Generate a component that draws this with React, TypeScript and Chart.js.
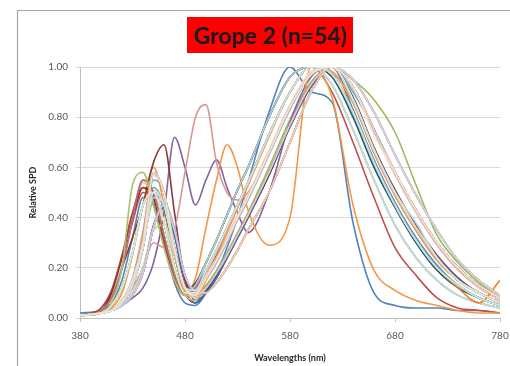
import React, { useEffect, useRef } from "react";
import { Chart, registerables } from "chart.js";

Chart.register(...registerables);

// Wavelength grid (nm) shared by all series
const wavelengths = [380, 400, 410, 420, 430, 440, 450, 460, 470, 480, 490, 500, 510, 520, 530, 540, 560, 580, 600, 620, 640, 660, 680, 700, 720, 740, 760, 780];

const xTicks = [380, 480, 580, 680, 780];
const yTicks = [0, 0.2, 0.4, 0.6, 0.8, 1.0];

const titleText = "Grope 2 (n=54)";
const xTitle = "Wavelengths (nm)";
const yTitle = "Relative SPD";

// Relative SPD values for the 54 lamps
const s01 = [0.02,0.03,0.06,0.15,0.32,0.48,0.46,0.3,0.14,0.06,0.05,0.1,0.18,0.28,0.4,0.54,0.82,1.0,0.9,0.86,0.38,0.1,0.05,0.04,0.04,0.03,0.03,0.02];
const s02 = [0.01,0.03,0.08,0.2,0.38,0.5,0.46,0.3,0.15,0.09,0.09,0.17,0.25,0.34,0.44,0.53,0.73,0.9,1.0,0.9,0.7,0.48,0.28,0.17,0.08,0.04,0.03,0.02];
const s03 = [0.01,0.02,0.03,0.07,0.15,0.3,0.46,0.42,0.25,0.12,0.1,0.13,0.19,0.26,0.34,0.42,0.6,0.79,0.94,1.0,0.95,0.87,0.74,0.53,0.33,0.22,0.14,0.08];
const s04 = [0.01,0.02,0.03,0.05,0.08,0.12,0.22,0.42,0.72,0.6,0.45,0.55,0.63,0.52,0.42,0.34,0.5,0.78,0.96,1.0,0.87,0.67,0.5,0.36,0.24,0.15,0.1,0.06];
const s05 = [0.01,0.02,0.03,0.06,0.13,0.28,0.52,0.45,0.27,0.12,0.1,0.16,0.23,0.31,0.4,0.48,0.66,0.84,0.97,1.0,0.87,0.67,0.51,0.36,0.24,0.15,0.1,0.06];
const s06 = [0.01,0.02,0.04,0.1,0.25,0.45,0.6,0.45,0.2,0.1,0.16,0.36,0.55,0.69,0.6,0.43,0.29,0.4,1.0,0.88,0.45,0.19,0.11,0.07,0.05,0.03,0.02,0.02];
const s07 = [0.01,0.02,0.03,0.05,0.09,0.18,0.36,0.45,0.35,0.15,0.07,0.11,0.17,0.24,0.32,0.4,0.57,0.76,0.92,1.0,0.92,0.75,0.58,0.43,0.3,0.2,0.13,0.08];
const s08 = [0.01,0.03,0.08,0.2,0.32,0.45,0.62,0.69,0.42,0.15,0.1,0.16,0.23,0.31,0.4,0.48,0.66,0.84,0.97,1.0,0.92,0.75,0.58,0.43,0.3,0.2,0.13,0.08];
const s09 = [0.01,0.02,0.05,0.12,0.26,0.45,0.5,0.38,0.2,0.1,0.13,0.22,0.31,0.41,0.51,0.6,0.8,0.96,1.0,0.93,0.75,0.55,0.37,0.24,0.15,0.09,0.06,0.04];
const s10 = [0.01,0.02,0.03,0.05,0.1,0.19,0.37,0.44,0.33,0.16,0.09,0.1,0.14,0.2,0.27,0.35,0.5,0.7,0.9,1.0,0.88,0.68,0.51,0.37,0.25,0.16,0.1,0.06];
const s11 = [0.01,0.03,0.08,0.2,0.4,0.55,0.5,0.33,0.17,0.1,0.12,0.19,0.27,0.36,0.45,0.54,0.73,0.9,1.0,0.97,0.82,0.62,0.45,0.31,0.2,0.13,0.08,0.05];
const s12 = [0.01,0.02,0.03,0.06,0.13,0.28,0.49,0.45,0.28,0.13,0.1,0.12,0.18,0.25,0.33,0.41,0.58,0.77,0.93,1.0,0.95,0.82,0.65,0.49,0.35,0.23,0.15,0.09];
const s13 = [0.01,0.02,0.03,0.07,0.15,0.33,0.57,0.5,0.28,0.12,0.09,0.15,0.22,0.3,0.39,0.47,0.65,0.83,0.97,1.0,0.86,0.66,0.49,0.35,0.23,0.15,0.1,0.06];
const s14 = [0.01,0.02,0.03,0.06,0.12,0.2,0.3,0.28,0.35,0.58,0.8,0.85,0.62,0.5,0.47,0.5,0.66,0.84,0.97,1.0,0.87,0.67,0.5,0.36,0.24,0.15,0.1,0.06];
const s15 = [0.01,0.02,0.03,0.05,0.1,0.2,0.35,0.37,0.25,0.12,0.08,0.12,0.18,0.25,0.33,0.41,0.58,0.77,0.93,1.0,0.92,0.75,0.58,0.43,0.3,0.2,0.13,0.08];
const s16 = [0.01,0.02,0.05,0.12,0.26,0.45,0.5,0.38,0.2,0.1,0.1,0.16,0.23,0.31,0.4,0.48,0.66,0.84,0.97,1.0,0.83,0.63,0.46,0.32,0.21,0.13,0.08,0.05];
const s17 = [0.01,0.02,0.03,0.05,0.09,0.18,0.36,0.46,0.36,0.17,0.11,0.16,0.23,0.31,0.4,0.48,0.66,0.84,0.97,1.0,0.95,0.82,0.65,0.49,0.35,0.23,0.15,0.09];
const s18 = [0.01,0.03,0.08,0.21,0.41,0.54,0.48,0.32,0.17,0.11,0.14,0.22,0.31,0.41,0.51,0.6,0.8,0.96,1.0,0.93,0.75,0.55,0.37,0.24,0.15,0.09,0.06,0.04];
const s19 = [0.01,0.02,0.03,0.06,0.13,0.28,0.49,0.44,0.25,0.1,0.06,0.1,0.16,0.24,0.32,0.4,0.57,0.77,0.93,1.0,0.87,0.67,0.5,0.36,0.24,0.15,0.1,0.06];
const s20 = [0.01,0.03,0.1,0.24,0.4,0.52,0.48,0.32,0.17,0.1,0.1,0.16,0.23,0.31,0.4,0.48,0.66,0.84,0.97,1.0,0.92,0.75,0.58,0.43,0.3,0.2,0.13,0.08];
const s21 = [0.01,0.02,0.03,0.07,0.15,0.33,0.57,0.5,0.28,0.12,0.11,0.19,0.27,0.36,0.45,0.54,0.73,0.9,1.0,0.97,0.82,0.62,0.45,0.31,0.2,0.13,0.08,0.05];
const s22 = [0.01,0.02,0.03,0.06,0.13,0.28,0.5,0.45,0.27,0.12,0.09,0.1,0.14,0.2,0.27,0.35,0.5,0.7,0.9,1.0,0.92,0.75,0.58,0.43,0.3,0.2,0.13,0.08];
const s23 = [0.01,0.02,0.05,0.12,0.26,0.45,0.5,0.38,0.2,0.11,0.14,0.22,0.31,0.41,0.51,0.6,0.8,0.96,1.0,0.96,0.8,0.6,0.44,0.3,0.19,0.12,0.08,0.05];
const s24 = [0.01,0.02,0.03,0.05,0.09,0.18,0.36,0.45,0.35,0.17,0.1,0.12,0.18,0.25,0.33,0.41,0.58,0.77,0.93,1.0,0.95,0.82,0.65,0.49,0.35,0.23,0.15,0.09];
const s25 = [0.01,0.02,0.03,0.07,0.16,0.35,0.58,0.5,0.27,0.12,0.1,0.16,0.23,0.31,0.4,0.48,0.66,0.84,0.97,1.0,0.87,0.67,0.5,0.36,0.24,0.15,0.1,0.06];
const s26 = [0.01,0.02,0.03,0.06,0.13,0.28,0.5,0.45,0.27,0.12,0.1,0.16,0.23,0.31,0.4,0.48,0.66,0.84,0.98,1.0,0.91,0.74,0.57,0.42,0.29,0.19,0.12,0.07];
const s27 = [0.01,0.02,0.05,0.12,0.26,0.45,0.5,0.38,0.2,0.1,0.11,0.19,0.27,0.36,0.45,0.54,0.73,0.9,1.0,0.98,0.86,0.66,0.49,0.35,0.23,0.15,0.1,0.06];
const s28 = [0.01,0.02,0.03,0.05,0.1,0.2,0.35,0.37,0.25,0.12,0.08,0.1,0.14,0.2,0.27,0.35,0.5,0.7,0.9,1.0,0.95,0.82,0.65,0.49,0.35,0.23,0.15,0.09];
const s29 = [0.01,0.03,0.08,0.2,0.4,0.55,0.5,0.33,0.17,0.1,0.12,0.19,0.27,0.36,0.45,0.54,0.73,0.9,1.0,0.93,0.75,0.55,0.37,0.24,0.15,0.09,0.06,0.04];
const s30 = [0.01,0.02,0.03,0.06,0.14,0.3,0.51,0.45,0.26,0.12,0.1,0.17,0.24,0.32,0.41,0.49,0.67,0.85,0.98,1.0,0.86,0.66,0.49,0.35,0.23,0.15,0.1,0.06];
const s31 = [0.01,0.02,0.03,0.05,0.09,0.18,0.36,0.45,0.33,0.12,0.06,0.1,0.16,0.24,0.32,0.4,0.58,0.77,0.93,1.0,0.87,0.67,0.5,0.36,0.24,0.15,0.1,0.06];
const s32 = [0.01,0.04,0.11,0.25,0.42,0.52,0.45,0.3,0.16,0.1,0.13,0.22,0.31,0.41,0.51,0.6,0.8,0.96,1.0,0.97,0.82,0.62,0.45,0.31,0.2,0.13,0.08,0.05];
const s33 = [0.01,0.02,0.03,0.07,0.15,0.33,0.57,0.5,0.28,0.12,0.09,0.16,0.23,0.31,0.4,0.48,0.66,0.84,0.97,1.0,0.92,0.75,0.58,0.43,0.3,0.2,0.13,0.08];
const s34 = [0.01,0.02,0.03,0.06,0.13,0.28,0.5,0.45,0.27,0.12,0.09,0.12,0.18,0.25,0.33,0.41,0.58,0.77,0.93,1.0,0.92,0.75,0.58,0.43,0.3,0.2,0.13,0.08];
const s35 = [0.01,0.02,0.03,0.07,0.15,0.33,0.57,0.5,0.28,0.12,0.11,0.19,0.27,0.36,0.45,0.54,0.73,0.9,1.0,0.98,0.86,0.66,0.49,0.35,0.23,0.15,0.1,0.06];
const s36 = [0.01,0.02,0.03,0.06,0.13,0.28,0.5,0.45,0.27,0.12,0.1,0.16,0.23,0.31,0.4,0.48,0.66,0.84,0.97,1.0,0.82,0.62,0.45,0.31,0.2,0.12,0.06,0.15];
const s37 = [0.01,0.02,0.03,0.05,0.09,0.18,0.36,0.45,0.35,0.17,0.11,0.16,0.23,0.31,0.4,0.48,0.66,0.84,0.97,1.0,0.92,0.75,0.58,0.43,0.3,0.2,0.13,0.08];
const s38 = [0.01,0.02,0.05,0.12,0.26,0.45,0.5,0.38,0.2,0.1,0.11,0.19,0.27,0.36,0.45,0.54,0.73,0.9,1.0,0.97,0.82,0.62,0.45,0.31,0.2,0.13,0.08,0.05];
const s39 = [0.01,0.02,0.03,0.05,0.1,0.2,0.35,0.37,0.25,0.12,0.08,0.12,0.18,0.25,0.33,0.41,0.58,0.77,0.93,1.0,0.95,0.82,0.65,0.49,0.35,0.23,0.15,0.09];
const s40 = [0.01,0.02,0.03,0.07,0.15,0.33,0.57,0.5,0.28,0.12,0.09,0.16,0.23,0.31,0.4,0.48,0.66,0.84,0.97,1.0,0.87,0.67,0.5,0.36,0.24,0.15,0.1,0.06];
const s41 = [0.01,0.02,0.05,0.12,0.26,0.45,0.5,0.38,0.2,0.1,0.13,0.22,0.31,0.41,0.51,0.6,0.8,0.96,1.0,0.97,0.82,0.62,0.45,0.31,0.2,0.13,0.08,0.05];
const s42 = [0.01,0.02,0.03,0.05,0.09,0.18,0.36,0.45,0.35,0.17,0.1,0.1,0.14,0.2,0.27,0.35,0.5,0.7,0.9,1.0,0.92,0.75,0.58,0.43,0.3,0.2,0.13,0.08];
const s43 = [0.01,0.02,0.03,0.06,0.13,0.28,0.5,0.45,0.27,0.12,0.1,0.16,0.23,0.31,0.4,0.48,0.66,0.84,0.97,1.0,0.83,0.63,0.46,0.32,0.21,0.13,0.08,0.05];
const s44 = [0.01,0.03,0.08,0.2,0.4,0.55,0.5,0.33,0.17,0.1,0.12,0.19,0.27,0.36,0.45,0.54,0.73,0.9,1.0,0.98,0.86,0.66,0.49,0.35,0.23,0.15,0.1,0.06];
const s45 = [0.01,0.02,0.06,0.2,0.53,0.58,0.45,0.28,0.15,0.09,0.1,0.19,0.27,0.36,0.45,0.54,0.73,0.9,1.0,0.97,0.82,0.62,0.45,0.31,0.2,0.13,0.08,0.05];
const s46 = [0.01,0.02,0.03,0.05,0.09,0.18,0.36,0.45,0.35,0.17,0.1,0.12,0.18,0.25,0.33,0.41,0.58,0.77,0.93,1.0,0.87,0.67,0.5,0.36,0.24,0.15,0.1,0.06];
const s47 = [0.01,0.02,0.03,0.07,0.15,0.33,0.55,0.5,0.28,0.12,0.09,0.16,0.23,0.31,0.4,0.48,0.66,0.84,0.97,1.0,0.9,0.75,0.58,0.43,0.3,0.2,0.13,0.08];
const s48 = [0.01,0.02,0.03,0.07,0.15,0.33,0.57,0.5,0.26,0.1,0.07,0.15,0.24,0.34,0.44,0.53,0.72,0.9,1.0,0.98,0.86,0.66,0.49,0.35,0.23,0.15,0.1,0.06];
const s49 = [0.01,0.02,0.03,0.06,0.13,0.28,0.48,0.45,0.27,0.12,0.1,0.16,0.23,0.31,0.4,0.48,0.66,0.84,0.97,1.0,0.87,0.67,0.5,0.38,0.24,0.15,0.1,0.06];
const s50 = [0.01,0.02,0.03,0.06,0.13,0.28,0.5,0.45,0.27,0.12,0.09,0.12,0.18,0.25,0.33,0.41,0.58,0.77,0.93,1.0,0.92,0.75,0.58,0.43,0.3,0.2,0.13,0.08];
const s51 = [0.01,0.02,0.05,0.12,0.26,0.45,0.5,0.38,0.2,0.1,0.1,0.16,0.23,0.31,0.4,0.48,0.66,0.84,0.97,1.0,0.87,0.67,0.5,0.36,0.24,0.15,0.1,0.06];
const s52 = [0.01,0.02,0.03,0.05,0.09,0.18,0.36,0.45,0.35,0.17,0.11,0.16,0.23,0.31,0.4,0.48,0.66,0.84,0.97,1.0,0.95,0.82,0.65,0.49,0.35,0.23,0.15,0.09];
const s53 = [0.01,0.02,0.03,0.06,0.13,0.28,0.5,0.45,0.27,0.12,0.11,0.19,0.27,0.36,0.45,0.54,0.73,0.9,1.0,0.97,0.82,0.62,0.45,0.31,0.2,0.13,0.08,0.05];
const s54 = [0.01,0.02,0.03,0.07,0.15,0.3,0.57,0.5,0.28,0.12,0.09,0.16,0.23,0.31,0.4,0.48,0.66,0.84,0.97,1.0,0.92,0.73,0.58,0.43,0.3,0.2,0.13,0.08];

const allSeries = [s01,s02,s03,s04,s05,s06,s07,s08,s09,s10,s11,s12,s13,s14,s15,s16,s17,s18,s19,s20,s21,s22,s23,s24,s25,s26,s27,s28,s29,s30,s31,s32,s33,s34,s35,s36,s37,s38,s39,s40,s41,s42,s43,s44,s45,s46,s47,s48,s49,s50,s51,s52,s53,s54];

const seriesColors = [
  "#4F81BD","#C0504D","#9BBB59","#8064A2","#4BACC6","#F79646",
  "#385D8A","#8C3836","#71893F","#5C4776","#357D91","#B66D31",
  "#95B3D7","#D99694","#C3D69B","#B3A2C7","#93CDDD","#FAC090",
  "#254061","#632523","#4F6228","#3F3151","#215968","#984807",
  "#B9CDE5","#E6B9B8","#D7E4BD","#CCC1DA","#B7DEE8","#FCD5B5",
  "#3F6FA8","#A5403D","#86A543","#6B5190","#31A0BD","#F57E21",
  "#A7C0DE","#DCA3A1","#CDDDAC","#BFB1D0","#A5D5E2","#FBCBA3",
  "#5C8AC2","#C66461","#A6C36F","#8E76AD","#5FB5CC","#F8A15F",
  "#C5D5EA","#EBC7C6","#DEE9C9","#D4CBE1","#C7E6EE","#FDDFC7",
];

const framePlugin = {
  id: "frame",
  beforeDraw(chart: any) {
    const ctx = chart.ctx;
    ctx.save();
    ctx.fillStyle = "#ffffff";
    ctx.fillRect(0, 0, chart.width, chart.height);
    ctx.strokeStyle = "#A6A6A6";
    ctx.lineWidth = 1.2;
    ctx.beginPath();
    ctx.moveTo(17.5, chart.height);
    ctx.lineTo(17.5, 10.5);
    ctx.lineTo(chart.width, 10.5);
    ctx.stroke();
    ctx.restore();
  },
};

export default function App() {
  const ref = useRef<HTMLCanvasElement>(null);

  useEffect(() => {
    if (!ref.current) return;
    const datasets = allSeries.map((vals, i) => ({
      label: "Lamp " + (i + 1),
      data: wavelengths.map((x, j) => ({ x, y: vals[j] })),
      borderColor: seriesColors[i],
      backgroundColor: seriesColors[i],
      borderWidth: 1.6,
      pointRadius: 0,
      fill: false,
      cubicInterpolationMode: "monotone" as const,
      order: allSeries.length - 1 - i,
    }));
    const chart = new Chart(ref.current, {
      type: "line",
      data: { datasets },
      plugins: [framePlugin],
      options: {
        animation: false,
        responsive: false,
        events: [],
        layout: { padding: { top: 67, right: 10, left: 0, bottom: 0 } },
        plugins: { legend: { display: false }, tooltip: { enabled: false }, title: { display: false } },
        scales: {
          x: {
            type: "linear",
            min: 380,
            max: 780,
            afterFit: (s: any) => { s.height = 48; s.paddingRight = 0; s.paddingLeft = 0; },
            afterBuildTicks: (s: any) => { s.ticks = xTicks.map((v) => ({ value: v })); },
            ticks: { font: { family: "Lato, sans-serif", size: 10 }, color: "#595959", padding: 8, maxRotation: 0 },
            grid: { drawOnChartArea: false, drawTicks: true, tickLength: 4, color: "#BFBFBF" },
            border: { color: "#BFBFBF" },
            title: { display: true, text: xTitle, font: { family: "Lato, sans-serif", size: 9, weight: "bold" }, color: "#262626", padding: { top: 0, bottom: 3 } },
          },
          y: {
            type: "linear",
            min: 0,
            max: 1,
            afterFit: (s: any) => { s.width = 80; },
            afterBuildTicks: (s: any) => { s.ticks = yTicks.map((v) => ({ value: v })); },
            ticks: { font: { family: "Lato, sans-serif", size: 10 }, color: "#595959", padding: 8, callback: (v: any) => Number(v).toFixed(2) },
            grid: { color: "#D9D9D9", tickLength: 4, drawTicks: true },
            border: { color: "#BFBFBF" },
            title: { display: true, text: yTitle, font: { family: "Lato, sans-serif", size: 9, weight: "bold" }, color: "#262626", padding: { top: 28, bottom: 0 } },
          },
        },
      },
    });
    return () => chart.destroy();
  }, []);

  return (
    <div style={{ position: "absolute", left: 0, top: 0, width: 510, height: 366, background: "#fff" }}>
      <canvas ref={ref} width={510} height={366} style={{ display: "block", width: 510, height: 366 }} />
      <div
        style={{
          position: "absolute",
          left: 187,
          top: 17,
          width: 166,
          height: 36,
          background: "#FF0000",
          color: "#1a1a1a",
          fontFamily: "Lato, sans-serif",
          fontWeight: 700,
          fontSize: 23,
          lineHeight: "36px",
          textAlign: "center",
          whiteSpace: "nowrap",
          overflow: "hidden",
        }}
      >
        {titleText}
      </div>
    </div>
  );
}
